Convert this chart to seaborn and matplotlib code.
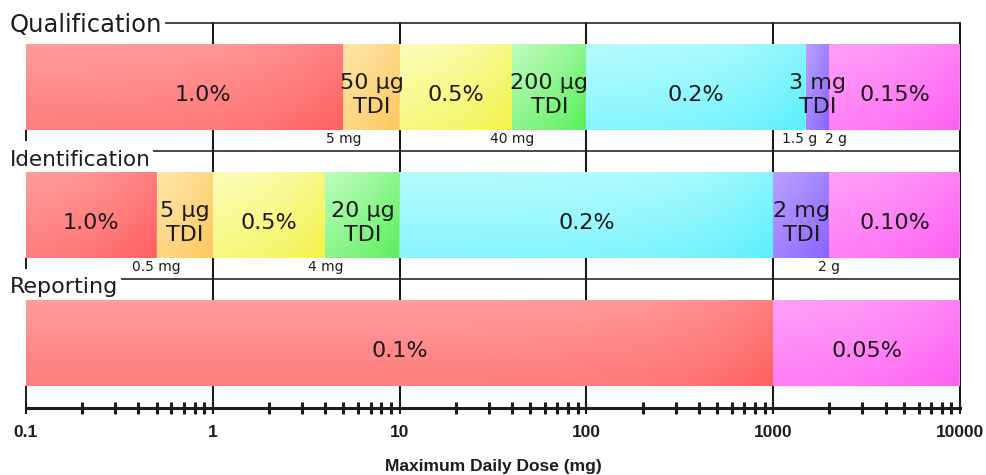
import numpy as np
import pandas as pd
import matplotlib
matplotlib.use('Agg')
import matplotlib.pyplot as plt
import seaborn as sns
from matplotlib import transforms
from matplotlib import colors as mcolors
from matplotlib.ticker import NullFormatter

# --- data ---
sections = ['Qualification', 'Identification', 'Reporting']

qual_edges = [0.1, 5, 10, 40, 100, 1500, 2000, 10000]
qual_labels = ['1.0%', '50 µg\nTDI', '0.5%', '200 µg\nTDI', '0.2%', '3 mg\nTDI', '0.15%']
qual_colors = ['red', 'orange', 'yellow', 'green', 'cyan', 'purple', 'magenta']
qual_mark_values = [5, 40, 1500, 2000]
qual_mark_text = ['5 mg', '40 mg', '1.5 g', '2 g']

ident_edges = [0.1, 0.5, 1, 4, 10, 1000, 2000, 10000]
ident_labels = ['1.0%', '5 µg\nTDI', '0.5%', '20 µg\nTDI', '0.2%', '2 mg\nTDI', '0.10%']
ident_colors = ['red', 'orange', 'yellow', 'green', 'cyan', 'purple', 'magenta']
ident_mark_values = [0.5, 4, 2000]
ident_mark_text = ['0.5 mg', '4 mg', '2 g']

report_edges = [0.1, 1000, 10000]
report_labels = ['0.1%', '0.05%']
report_colors = ['red', 'magenta']
report_mark_values = []
report_mark_text = []

tick_values = [0.1, 1, 10, 100, 1000, 10000]
tick_labels = ['0.1', '1', '10', '100', '1000', '10000']

# light (top-left) -> saturated (bottom-right)
palette = {
    'red': ('#ff9c9c', '#ff5f5f'),
    'orange': ('#fde6a8', '#ffc65c'),
    'yellow': ('#fbfdb8', '#f3f348'),
    'green': ('#bcfcbc', '#58ef58'),
    'cyan': ('#b6fcfc', '#58effc'),
    'purple': ('#b8a0ff', '#8a62ff'),
    'magenta': ('#ffa0f8', '#ff5cf2'),
}

rows = [
    (qual_edges, qual_labels, qual_colors, qual_mark_values, qual_mark_text),
    (ident_edges, ident_labels, ident_colors, ident_mark_values, ident_mark_text),
    (report_edges, report_labels, report_colors, report_mark_values, report_mark_text),
]

segments = pd.DataFrame([
    dict(row=i, left=l, right=r, label=lab, color=c)
    for i, (edges, labels, cols, _, _) in enumerate(rows)
    for l, r, lab, c in zip(edges[:-1], edges[1:], labels, cols)
])


def gradient(light, dark, n=64):
    u = np.linspace(0, 1, n)
    t = 0.5 * u[None, :] + 0.5 * u[:, None]
    c0 = np.array(mcolors.to_rgb(light))
    c1 = np.array(mcolors.to_rgb(dark))
    return c0 + t[..., None] * (c1 - c0)


def mid_colour(light, dark):
    return (np.array(mcolors.to_rgb(light)) + np.array(mcolors.to_rgb(dark))) / 2


sns.set_theme(style='white')
plt.rcParams['font.family'] = ['DejaVu Sans']
ink = '#1c1c1c'

fig = plt.figure(figsize=(9.87, 4.75), dpi=100)
ax = fig.add_axes([26 / 987, 67 / 475, 934 / 987, 385 / 475])
ax.set_xscale('log')

# layout (y in pixel-like units, 0 at top)
row_step = 128
bar_gap = 21
bar_h = 86
axis_y = 385
label_base = [9, 15, 14]
label_size = [17.5, 15.5, 16]
text_drop = 8
mark_nudge = {'1.5 g': -5, '2 g': 5}
label_nudge = {(0, 0): 13}

lab_tf = transforms.blended_transform_factory(fig.transFigure, ax.transData)

for i, name in enumerate(sections):
    edges, labels, cols, mvals, mtexts = rows[i]
    header = i * row_step
    top = header + bar_gap
    bottom = top + bar_h

    ax.axhline(header, color='#2a2a2a', lw=1.2, zorder=1, clip_on=False)
    ax.text(10 / 987, header + label_base[i], name, transform=lab_tf,
            fontsize=label_size[i], color=ink, va='baseline', ha='left', zorder=1.5,
            clip_on=False,
            bbox=dict(boxstyle='square,pad=0.12', fc='white', ec='none'))

    seg = segments[segments['row'] == i].reset_index(drop=True)
    # flat base under the gradients so no seam shows between segments
    ax.barh(top + bar_h / 2, seg['right'] - seg['left'], left=seg['left'],
            height=bar_h, color=[mid_colour(*palette[c]) for c in seg['color']],
            linewidth=0, zorder=1.8)
    for j, s in seg.iterrows():
        ax.imshow(gradient(*palette[s['color']]),
                  extent=(s['left'], s['right'], bottom, top),
                  origin='upper', aspect='auto', interpolation='bilinear',
                  zorder=2)
        ax.annotate(s['label'], (np.sqrt(s['left'] * s['right']), (top + bottom) / 2 + text_drop),
                    xytext=(label_nudge.get((i, j), 0), 0), textcoords='offset points',
                    ha='center', va='center', fontsize=16, linespacing=1.3,
                    color=ink, zorder=4)

    for v, t in zip(mvals, mtexts):
        ax.annotate(t, (v, bottom + 2), xytext=(mark_nudge.get(t, 0) if i == 0 else 0, 0),
                    textcoords='offset points', ha='center', va='top',
                    fontsize=10, color=ink, zorder=4)

    tick_end = bottom + 11 if i < len(sections) - 1 else axis_y
    ax.vlines(edges[0], bottom, tick_end, color=ink, lw=1.4, zorder=1, clip_on=False)

for v in tick_values[1:]:
    ax.axvline(v, color=ink, lw=1.5, zorder=1, clip_on=False)

ax.set_xlim(tick_values[0], tick_values[-1])
ax.set_ylim(axis_y, 0)
ax.set_yticks([])

for side in ['top', 'left', 'right']:
    ax.spines[side].set_visible(False)
ax.spines['bottom'].set_linewidth(2.2)
ax.spines['bottom'].set_color(ink)

ax.set_xticks(tick_values, labels=tick_labels, fontsize=12.5,
              fontweight='bold', fontfamily='Liberation Sans')
ax.xaxis.set_minor_formatter(NullFormatter())
ax.tick_params(axis='x', which='both', bottom=True, direction='inout', color=ink)
ax.tick_params(axis='x', which='major', length=8, width=1.5, pad=8, labelcolor=ink)
ax.tick_params(axis='x', which='minor', length=8, width=2.2)

ax.set_xlabel('Maximum Daily Dose (mg)', fontsize=12.5, fontweight='bold',
              fontfamily='Liberation Sans', color=ink, labelpad=14)

fig.savefig('out.png', dpi=100)
